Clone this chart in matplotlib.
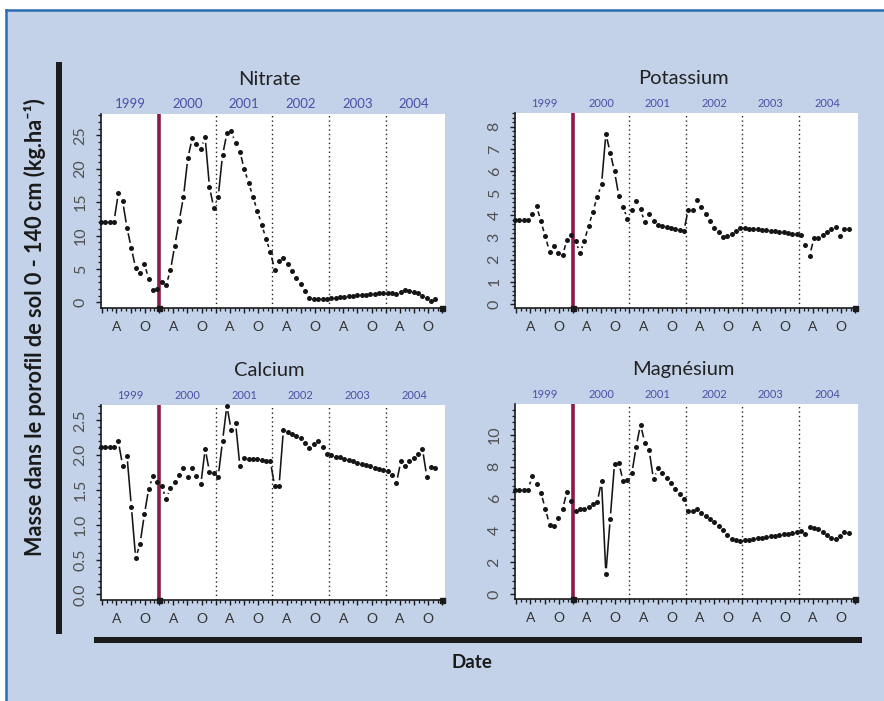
import numpy as np
import pandas as pd
import matplotlib
matplotlib.use("Agg")
import matplotlib.pyplot as plt
from matplotlib.lines import Line2D
from matplotlib.patches import Rectangle
from matplotlib.ticker import FixedLocator, NullFormatter, FixedFormatter, MultipleLocator

plt.rcParams['font.family'] = ['Lato', 'DejaVu Sans']

# ---------------- data ----------------
dates = pd.date_range('1998-12-23', periods=78, freq='28D')

nitrate = [12.1, 12.1, 12.1, 12.1, 16.3, 15.15, 11.15, 8.1, 5.1, 4.35, 5.75, 3.5, 1.9,
           2.05, 3.05, 2.6, 4.8, 8.5, 12.15, 15.8, 21.55, 24.55, 23.75, 23.0, 24.7, 17.25,
           14.15, 15.8, 22.0, 25.3, 25.6, 23.85, 22.55, 19.95, 17.9, 15.8, 13.7, 11.65, 9.55,
           7.5, 4.9, 6.25, 6.65, 5.7, 4.7, 3.65, 2.7, 1.7, 0.7, 0.55, 0.5, 0.5, 0.55, 0.65,
           0.7, 0.75, 0.85, 0.9, 0.95, 1.05, 1.1, 1.15, 1.2, 1.25, 1.35, 1.45, 1.45, 1.35,
           1.2, 1.6, 1.85, 1.75, 1.6, 1.35, 1.0, 0.7, 0.2, 0.55]

potassium = [3.80, 3.80, 3.80, 3.80, 4.07, 4.42, 3.73, 3.05, 2.36, 2.63, 2.29, 2.20, 2.89,
             3.10, 2.84, 2.29, 2.84, 3.52, 4.17, 4.83, 5.41, 7.68, 6.83, 5.98, 4.87, 4.39,
             3.82, 4.26, 4.65, 4.27, 3.68, 4.06, 3.73, 3.56, 3.52, 3.46, 3.41, 3.37, 3.34,
             3.29, 4.26, 4.26, 4.71, 4.38, 4.06, 3.74, 3.43, 3.23, 3.04, 3.08, 3.14, 3.29,
             3.44, 3.43, 3.40, 3.38, 3.37, 3.34, 3.32, 3.29, 3.28, 3.25, 3.23, 3.20, 3.17,
             3.16, 3.13, 2.66, 2.18, 2.96, 2.96, 3.11, 3.26, 3.38, 3.49, 3.08, 3.37, 3.37]

calcium = [2.11, 2.11, 2.11, 2.11, 2.20, 1.85, 1.99, 1.26, 0.52, 0.73, 1.15, 1.52, 1.70,
           1.61, 1.55, 1.37, 1.53, 1.62, 1.71, 1.81, 1.68, 1.81, 1.70, 1.58, 2.09, 1.76,
           1.75, 1.69, 2.20, 2.71, 2.36, 2.46, 1.84, 1.96, 1.95, 1.94, 1.94, 1.93, 1.92,
           1.91, 1.55, 1.56, 2.36, 2.33, 2.30, 2.27, 2.24, 2.17, 2.10, 2.16, 2.21, 2.11,
           2.02, 2.00, 1.98, 1.97, 1.95, 1.93, 1.91, 1.89, 1.88, 1.86, 1.84, 1.82, 1.80,
           1.79, 1.77, 1.72, 1.60, 1.91, 1.85, 1.91, 1.96, 2.02, 2.09, 1.69, 1.83, 1.82]

magnesium = [6.57, 6.57, 6.57, 6.57, 7.39, 6.93, 6.38, 5.36, 4.36, 4.26, 4.79, 5.32, 6.44,
             5.85, 5.21, 5.32, 5.32, 5.49, 5.64, 5.78, 7.08, 1.27, 4.72, 8.20, 8.22, 7.10,
             7.14, 7.58, 9.26, 10.66, 9.51, 9.03, 7.20, 7.90, 7.58, 7.29, 6.95, 6.63, 6.31,
             5.97, 5.21, 5.21, 5.34, 5.11, 4.89, 4.70, 4.51, 4.26, 4.00, 3.73, 3.45, 3.41,
             3.33, 3.37, 3.41, 3.45, 3.50, 3.54, 3.58, 3.62, 3.67, 3.71, 3.75, 3.79, 3.86,
             3.90, 3.94, 3.75, 4.24, 4.17, 4.11, 3.90, 3.73, 3.54, 3.43, 3.67, 3.88, 3.86]

titles = ['Nitrate', 'Potassium', 'Calcium', 'Magnésium']
series = [nitrate, potassium, calcium, magnesium]
years = [1999, 2000, 2001, 2002, 2003, 2004]
month_labels = {4: 'A', 10: 'O'}
treatment_year = 2000

ylims = [(-0.85, 28.2), (-0.18, 8.62), (-0.08, 2.72), (-0.32, 11.95)]
ymajor = [5, 1, 0.5, 2]
yminor = [1, 0.2, 0.1, 0.4]
yfmt = ['{:.0f}', '{:.0f}', '{:.1f}', '{:.0f}']
year_fs = [9.5, 8.0, 8.0, 8.0]

# decimal years
t = np.asarray(dates.year + (dates.dayofyear - 1) / np.where(dates.is_leap_year, 366, 365), dtype=float)

# ---------------- figure ----------------
W, H = 884, 701
fig = plt.figure(figsize=(W / 100, H / 100), dpi=100, facecolor='white')

def fx(px):
    return px / W

def fy(py):
    return 1 - py / H

bg = '#c3d2e8'
fig.add_artist(Rectangle((fx(6), 0), 1 - fx(6), fy(9.5), transform=fig.transFigure,
                         facecolor=bg, edgecolor='none', zorder=0))
fig.add_artist(Line2D([fx(6), 1], [fy(9.5), fy(9.5)], transform=fig.transFigure,
                      color='#2a6db3', lw=1.8, zorder=1))
fig.add_artist(Line2D([fx(6), fx(6)], [0, fy(9.5)], transform=fig.transFigure,
                      color='#2a6db3', lw=1.8, zorder=1))

# thick bars
fig.add_artist(Rectangle((fx(55.7), fy(634)), fx(6), fy(61.7) - fy(634), transform=fig.transFigure,
                         facecolor='#1c1c1c', edgecolor='none', zorder=2))
fig.add_artist(Rectangle((fx(94), fy(643)), fx(862) - fx(94), fy(637.3) - fy(643),
                         transform=fig.transFigure, facecolor='#1c1c1c', edgecolor='none', zorder=2))

fig.text(fx(35), fy(327), 'Masse dans le porofil de sol 0 - 140 cm (kg.ha\u207b\u00b9)',
         rotation=90, ha='center', va='center', fontsize=15.6, fontweight='bold', color='#1a1a1a')
fig.text(fx(472), fy(663), 'Date', ha='center', va='center', fontsize=13.5, fontweight='bold',
         color='#1a1a1a')

boxes = [(101, 445, 114, 308), (515, 858, 113, 308), (101, 445, 405, 600), (515, 858, 404, 599)]

xlim = (1998.977, 2005.045)
quarter_ticks = [y + (m - 1) / 12 for y in years for m in (1, 4, 7, 10)] + [2005.0]
month_ticks = [y + (m - 1) / 12 for y in years for m in range(1, 13)] + [2005.0]
quarter_labels = []
for y in years:
    for m in (1, 4, 7, 10):
        quarter_labels.append(month_labels.get(m, ''))
quarter_labels.append('')

tick_col = '#333333'
gap_px = 5.5

for i, (title, vals) in enumerate(zip(titles, series)):
    l, r, tp, b = boxes[i]
    ax = fig.add_axes([fx(l), fy(b), fx(r) - fx(l), fy(tp) - fy(b)])
    ax.set_facecolor('white')
    ax.set_xlim(*xlim)
    ax.set_ylim(*ylims[i])
    for s in ('top', 'right'):
        ax.spines[s].set_visible(False)
    for s in ('left', 'bottom'):
        ax.spines[s].set_color('#1a1a1a')
        ax.spines[s].set_linewidth(1.2)

    # x ticks
    ax.xaxis.set_major_locator(FixedLocator(quarter_ticks))
    ax.xaxis.set_major_formatter(FixedFormatter(quarter_labels))
    ax.xaxis.set_minor_locator(FixedLocator(month_ticks))
    ax.xaxis.set_minor_formatter(NullFormatter())
    ax.tick_params(axis='x', which='major', direction='out', length=3.6, width=1.0,
                   pad=5.5, labelsize=10, colors='#1a1a1a', labelcolor=tick_col)
    ax.tick_params(axis='x', which='minor', direction='out', length=2.0, width=0.9, colors='#1a1a1a')

    # y ticks
    ax.yaxis.set_major_locator(MultipleLocator(ymajor[i]))
    ax.yaxis.set_minor_locator(MultipleLocator(yminor[i]))
    fmt = yfmt[i]
    ax.yaxis.set_major_formatter(matplotlib.ticker.FuncFormatter(lambda v, p, f=fmt: f.format(v)))
    ax.tick_params(axis='y', which='major', direction='out', length=3.6, width=1.0,
                   pad=6, labelsize=11.5, colors='#1a1a1a', labelcolor='#505050')
    ax.tick_params(axis='y', which='minor', direction='out', length=2.0, width=0.9, colors='#1a1a1a')
    for lab in ax.get_yticklabels():
        lab.set_rotation(90)
        lab.set_va('center')

    # vertical reference lines
    for y in years[2:]:
        ax.axvline(y, color='#222222', lw=1.0, ls=(0, (1, 2.2)), zorder=2)
    ax.axvline(treatment_year, color='#8c1a4b', lw=2.6, zorder=3)

    # end squares on the x axis
    ax.plot([treatment_year, 2005.0], [ylims[i][0], ylims[i][0]], 's', ms=3.6,
            color='#1a1a1a', clip_on=False, zorder=6)

    # R-style "b" lines: segments with gaps around points
    pts = ax.transData.transform(np.column_stack([t, vals]))
    inv = ax.transData.inverted()
    for p, q in zip(pts[:-1], pts[1:]):
        d = q - p
        L = np.hypot(d[0], d[1])
        if L > 2 * gap_px + 0.8:
            u = d / L
            a = inv.transform(p + u * gap_px)
            c = inv.transform(q - u * gap_px)
            ax.plot([a[0], c[0]], [a[1], c[1]], color='#151515', lw=1.15,
                    solid_capstyle='butt', zorder=4)
    ax.plot(t, vals, 'o', ms=3.6, color='#151515', mec='none', zorder=5, clip_on=False)

    # year labels
    for y in years:
        ax.annotate(str(y), xy=(y + 0.5, 1.0), xycoords=('data', 'axes fraction'),
                    xytext=(0, 4.5), textcoords='offset points', ha='center', va='baseline',
                    fontsize=year_fs[i], color='#4a4fa8')
    ax.annotate(title, xy=(0.49, 1.0), xycoords='axes fraction', xytext=(0, 21),
                textcoords='offset points', ha='center', va='baseline', fontsize=14.5,
                color='#222222')

fig.savefig('out.png', dpi=100, facecolor=fig.get_facecolor())
